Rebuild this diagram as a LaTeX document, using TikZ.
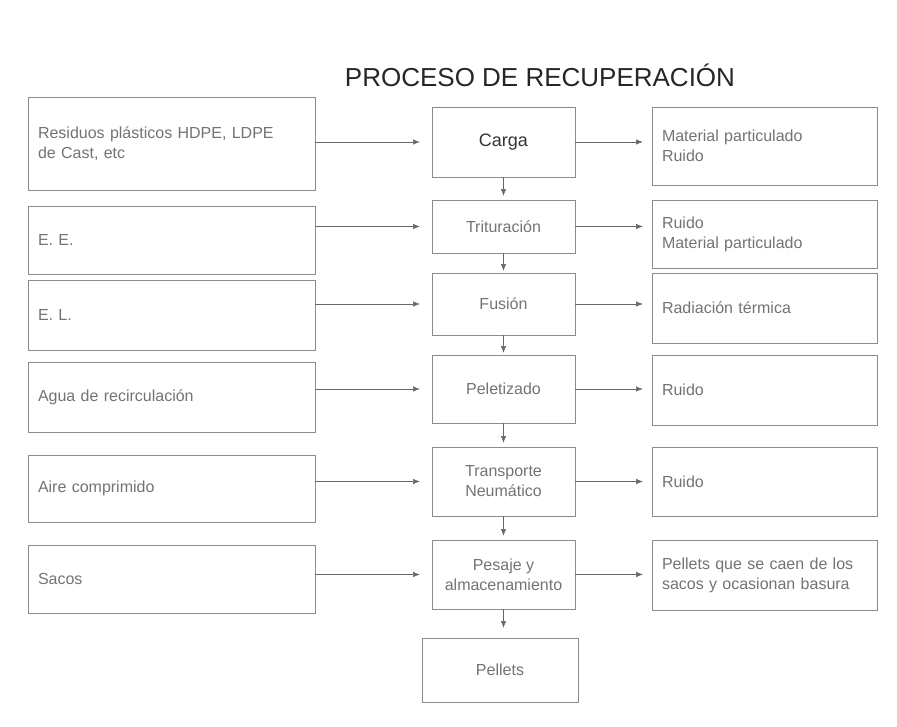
\documentclass[tikz,border=0pt]{standalone}
\usepackage{fontspec}
\setmainfont{Liberation Sans}
\usetikzlibrary{arrows.meta}
\newlength{\px}\setlength{\px}{0.75pt}
\tikzset{
  inbox/.style={draw=black!45, text=black!55, minimum width=287\px, text width=267\px, inner xsep=10\px, align=left, font=\fontsize{12}{15}\selectfont},
  stagebox/.style={draw=black!45, text=black!55, minimum width=143\px, align=center, font=\fontsize{12}{15}\selectfont},
  outbox/.style={draw=black!45, text=black!55, minimum width=225\px, text width=205\px, inner xsep=10\px, align=left, font=\fontsize{12}{15}\selectfont},
  flow/.style={draw=black!60, -{Latex[length=5pt,width=4pt]}},
}
\begin{document}
\begin{tikzpicture}[x=\px, y=-\px]
			%%%%% START %%%%%
			\useasboundingbox (0,0) rectangle (897,727);
			
			\node[text=black!85, font=\fontsize{19.5}{22}\selectfont] (title) at (540, 75) {PROCESO DE RECUPERACIÓN};
			
			% entradas
			\node[inbox, minimum height=93\px] (lres) at (171.5, 143.5) {Residuos plásticos HDPE, LDPE\\de Cast, etc};
			\node[inbox, minimum height=68\px] (lee) at (171.5, 240) {E. E.};
			\node[inbox, minimum height=70\px] (lel) at (171.5, 315) {E. L.};
			\node[inbox, minimum height=70\px] (lagua) at (171.5, 397) {Agua de recirculación};
			\node[inbox, minimum height=67\px] (laire) at (171.5, 488.5) {Aire comprimido};
			\node[inbox, minimum height=68\px] (lsacos) at (171.5, 579) {Sacos};
			
			% etapas
			\node[stagebox, minimum height=70\px, text=black!80, font=\fontsize{13.5}{16}\selectfont] (carga) at (503.5, 142) {Carga};
			\node[stagebox, minimum height=53\px] (tritur) at (503.5, 226.5) {Trituración};
			\node[stagebox, minimum height=62\px] (fusion) at (503.5, 304) {Fusión};
			\node[stagebox, minimum height=68\px] (pelet) at (503.5, 389) {Peletizado};
			\node[stagebox, minimum height=69\px] (transp) at (503.5, 481.5) {Transporte\\Neumático};
			\node[stagebox, minimum height=69\px] (pesaje) at (503.5, 574.5) {Pesaje y\\almacenamiento};
			\node[stagebox, minimum width=156\px, minimum height=64\px] (pellets) at (500, 670) {Pellets};
			
			% salidas
			\node[outbox, minimum height=78\px] (rmat) at (764.5, 146) {Material particulado\\Ruido};
			\node[outbox, minimum height=68\px] (rruido) at (764.5, 234) {Ruido\\Material particulado};
			\node[outbox, minimum height=70\px] (rrad) at (764.5, 308) {Radiación térmica};
			\node[outbox, minimum height=70\px] (rpel) at (764.5, 390) {Ruido};
			\node[outbox, minimum height=69\px] (rtra) at (764.5, 481.5) {Ruido};
			\node[outbox, minimum height=70\px] (rsac) at (764.5, 575) {Pellets que se caen de los\\sacos y ocasionan basura};
			
			% flechas de entrada
			\draw[flow, shorten >=9pt] (carga.west -| lres.east) -- (carga.west);
			\draw[flow, shorten >=9pt] (tritur.west -| lee.east) -- (tritur.west);
			\draw[flow, shorten >=9pt] (fusion.west -| lel.east) -- (fusion.west);
			\draw[flow, shorten >=9pt] (pelet.west -| lagua.east) -- (pelet.west);
			\draw[flow, shorten >=9pt] (transp.west -| laire.east) -- (transp.west);
			\draw[flow, shorten >=9pt] (pesaje.west -| lsacos.east) -- (pesaje.west);
			
			% flechas de salida
			\draw[flow, shorten >=6.75pt] (carga.east) -- (carga.east -| rmat.west);
			\draw[flow, shorten >=6.75pt] (tritur.east) -- (tritur.east -| rruido.west);
			\draw[flow, shorten >=6.75pt] (fusion.east) -- (fusion.east -| rrad.west);
			\draw[flow, shorten >=6.75pt] (pelet.east) -- (pelet.east -| rpel.west);
			\draw[flow, shorten >=6.75pt] (transp.east) -- (transp.east -| rtra.west);
			\draw[flow, shorten >=6.75pt] (pesaje.east) -- (pesaje.east -| rsac.west);
			
			% flujo del proceso
			\draw[flow, shorten >=3pt] (carga) -- (tritur);
			\draw[flow, shorten >=1.5pt] (tritur) -- (fusion);
			\draw[flow, shorten >=1.5pt] (fusion) -- (pelet);
			\draw[flow, shorten >=3pt] (pelet) -- (transp);
			\draw[flow, shorten >=3pt] (transp) -- (pesaje);
			\draw[flow, shorten >=7.5pt] (pesaje) -- (pesaje |- pellets.north);
			
			%%%%% END %%%%%
\end{tikzpicture}
\end{document}
